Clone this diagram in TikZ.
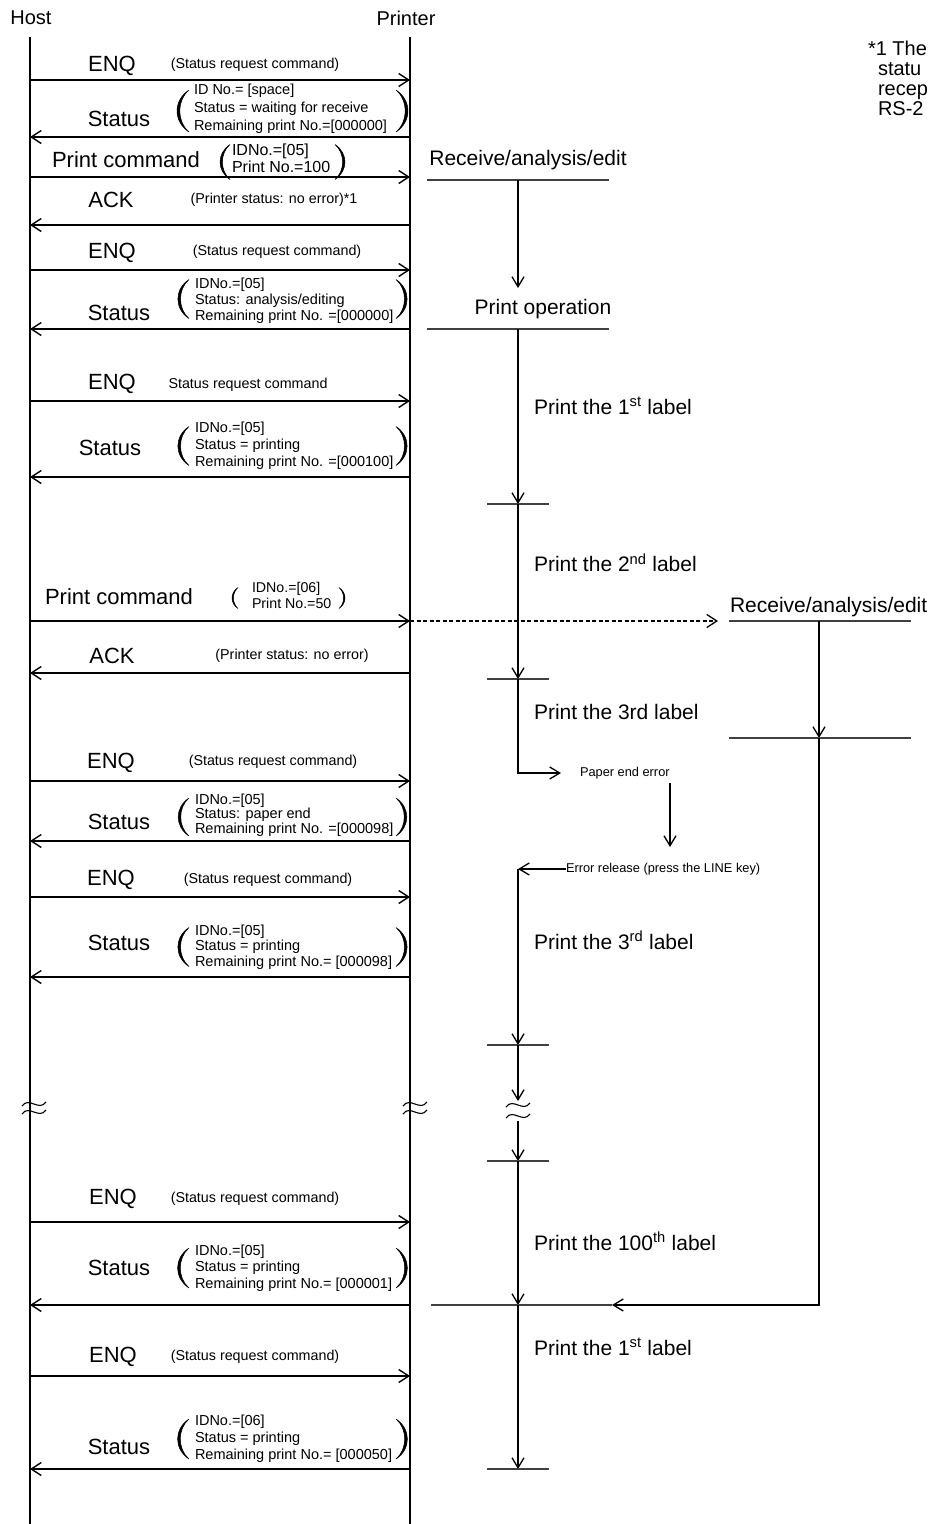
\documentclass[tikz,border=0pt]{standalone}
\usepackage{fontspec}
\setmainfont{Liberation Sans}
\usetikzlibrary{arrows.meta}
\newcommand\fs[2]{\fontsize{#1}{#2}\selectfont}
\begin{document}
\begin{tikzpicture}[x=1pt,y=-1pt,
  every node/.style={inner sep=0pt, outer sep=0pt},
  life/.style={line width=2.2pt},
  msg/.style={line width=1.4pt, -{Straight Barb[length=10pt,width=13pt]}},
  dmsg/.style={line width=1.3pt, dash pattern=on 4pt off 2.5pt, -{Straight Barb[length=10pt,width=13pt]}},
  flow/.style={line width=1.3pt, -{Straight Barb[length=10pt,width=12pt]}},
  bar/.style={line width=1.1pt, black!75},
  big/.style={font=\fs{22}{26}},
  actor/.style={font=\fs{20}{24}},
  proc/.style={font=\fs{21}{25}},
  small/.style={font=\fs{14.3}{17}},
  tiny/.style={font=\fs{12.8}{15}, anchor=west},
  blk/.style={font=\fs{14.5}{#1}, align=left, anchor=west},
  note/.style={font=\fs{20}{20}, anchor=base west},
  tildewave/.pic={\draw[line width=1.1pt] (-12,2) .. controls (-5,-8) and (5,8) .. (12,-2);},
  lpar/.pic={\filldraw[line width=0.5pt] (0,-#1/2) .. controls (-0.38*#1,-#1/4) and (-0.38*#1,#1/4) .. (0,#1/2)
      .. controls (-0.29*#1,#1/4) and (-0.29*#1,-#1/4) .. cycle;},
  rpar/.pic={\filldraw[line width=0.5pt] (0,-#1/2) .. controls (0.38*#1,-#1/4) and (0.38*#1,#1/4) .. (0,#1/2)
      .. controls (0.29*#1,#1/4) and (0.29*#1,-#1/4) .. cycle;}
]
\useasboundingbox (0,0) rectangle (933,1524);

% lifelines
\node[actor] (host) at (31,18) {Host};
\node[actor] (printer) at (406,18) {Printer};
\coordinate (H) at (30,37);
\coordinate (Hb) at (30,1524);
\coordinate (P) at (410,37);
\coordinate (Pb) at (410,1524);
\draw[life] (H) -- (Hb);
\draw[life] (P) -- (Pb);

% footnote (clipped in the reference)
\node[note] (fn1) at (868,55) {*1 The};
\node[note] (fn2) at (878,75) {statu};
\node[note] (fn3) at (878,95) {recep};
\node[note] (fn4) at (878,115) {RS-2};

% ---------- messages ----------
% 1 ENQ
\node[big] (enq1) at (112,66) {ENQ};
\node[small] (enq1n) at (255,65) {(Status request command)};
\draw[msg] (H |- 0,80) -- (P |- 0,80);
% 2 Status
\node[big] (st1) at (119,119) {Status};
\pic at (189,111) {lpar=42};
\node[blk=18] (st1t) at (194,109) {ID No.= [space]\\Status = waiting for receive\\Remaining print No.=[000000]};
\pic at (396,111) {rpar=42};
\draw[msg] (P |- 0,137) -- (H |- 0,137);
% 3 Print command
\node[big] (pc1) at (126,160) {Print command};
\pic at (230,162) {lpar=35};
\node[font=\fs{16}{17}, align=left, anchor=west] (pc1t) at (232,158.5) {IDNo.=[05]\\Print No.=100};
\pic at (335,162) {rpar=35};
\draw[msg] (H |- 0,177) -- (P |- 0,177);
% 4 ACK
\node[big] (ack1) at (111,200) {ACK};
\node[small] (ack1n) at (274,200) {(Printer status: no error)*1};
\draw[msg] (P |- 0,225) -- (H |- 0,225);
% 5 ENQ
\node[big] (enq2) at (112,253) {ENQ};
\node[small] (enq2n) at (277,252) {(Status request command)};
\draw[msg] (H |- 0,270) -- (P |- 0,270);
% 6 Status
\node[big] (st2) at (119,313) {Status};
\pic at (189,299) {lpar=39};
\node[blk=16] (st2t) at (195,301) {IDNo.=[05]\\Status: analysis/editing\\Remaining print No. =[000000]};
\pic at (396,299) {rpar=39};
\draw[msg] (P |- 0,329) -- (H |- 0,329);
% 7 ENQ
\node[big] (enq3) at (112,384) {ENQ};
\node[small] (enq3n) at (248,385) {Status request command};
\draw[msg] (H |- 0,401) -- (P |- 0,401);
% 8 Status
\node[big] (st3) at (110,448) {Status};
\pic at (189,446) {lpar=39};
\node[blk=17] (st3t) at (195,446) {IDNo.=[05]\\Status = printing\\Remaining print No. =[000100]};
\pic at (396,446) {rpar=39};
\draw[msg] (P |- 0,477) -- (H |- 0,477);
% 9 Print command
\node[big] (pc2) at (119,597) {Print command};
\pic at (238,598) {lpar=21};
\node[font=\fs{14.2}{16}, align=left, anchor=west] (pc2t) at (252,595) {IDNo.=[06]\\Print No.=50};
\pic at (339,598) {rpar=21};
\draw[msg] (H |- 0,621) -- (P |- 0,621);
% 10 ACK
\node[big] (ack2) at (112,656) {ACK};
\node[small] (ack2n) at (292,656) {(Printer status: no error)};
\draw[msg] (P |- 0,673) -- (H |- 0,673);
% 11 ENQ
\node[big] (enq4) at (111,763) {ENQ};
\node[small] (enq4n) at (273,762) {(Status request command)};
\draw[msg] (H |- 0,781) -- (P |- 0,781);
% 12 Status
\node[big] (st4) at (119,822) {Status};
\pic at (189,817) {lpar=38};
\node[blk=14.5] (st4t) at (195,815) {IDNo.=[05]\\Status: paper end\\Remaining print No. =[000098]};
\pic at (396,817) {rpar=38};
\draw[msg] (P |- 0,841) -- (H |- 0,841);
% 13 ENQ
\node[big] (enq5) at (111,880) {ENQ};
\node[small] (enq5n) at (268,880) {(Status request command)};
\draw[msg] (H |- 0,897) -- (P |- 0,897);
% 14 Status
\node[big] (st5) at (119,943) {Status};
\pic at (189,947) {lpar=39};
\node[blk=15.5] (st5t) at (195,947) {IDNo.=[05]\\Status = printing\\Remaining print No.= [000098]};
\pic at (396,947) {rpar=39};
\draw[msg] (P |- 0,977) -- (H |- 0,977);
% 15 ENQ
\node[big] (enq6) at (113,1199) {ENQ};
\node[small] (enq6n) at (255,1199) {(Status request command)};
\draw[msg] (H |- 0,1222) -- (P |- 0,1222);
% 16 Status
\node[big] (st6) at (119,1268) {Status};
\pic at (189,1268) {lpar=40};
\node[blk=16.5] (st6t) at (195,1268) {IDNo.=[05]\\Status = printing\\Remaining print No.= [000001]};
\pic at (396,1268) {rpar=40};
\draw[msg] (P |- 0,1305) -- (H |- 0,1305);
% 17 ENQ
\node[big] (enq7) at (113,1357) {ENQ};
\node[small] (enq7n) at (255,1357) {(Status request command)};
\draw[msg] (H |- 0,1376) -- (P |- 0,1376);
% 18 Status
\node[big] (st7) at (119,1447) {Status};
\pic at (189,1439) {lpar=40};
\node[blk=17] (st7t) at (195,1439) {IDNo.=[06]\\Status = printing\\Remaining print No.= [000050]};
\pic at (396,1439) {rpar=40};
\draw[msg] (P |- 0,1469) -- (H |- 0,1469);

% break marks on lifelines
\pic at (34,1104) {tildewave};
\pic at (34,1112) {tildewave};
\pic at (415,1104) {tildewave};
\pic at (415,1112) {tildewave};

% ---------- printer process, column A ----------
\node[proc] (ra1) at (528,160) {Receive/analysis/edit};
\coordinate (ra1L) at (427,180);
\coordinate (ra1R) at (609,180);
\draw[bar] (ra1L) -- (ra1R);
\coordinate (a0) at (518,180);
\coordinate (a0e) at (518,288);
\draw[flow] (a0) -- (a0e);

\node[proc] (pop) at (543,309) {Print operation};
\coordinate (popL) at (427,329);
\coordinate (popR) at (609,329);
\draw[bar] (popL) -- (popR);
\coordinate (a1) at (518,329);
\coordinate (t1) at (518,504);
\draw[flow] (a1) -- (t1);
\draw[bar] ([xshift=-31pt]t1) -- ([xshift=31pt]t1);
\node[proc, anchor=west] (l1) at (534,406) {Print the 1\textsuperscript{st} label};

\coordinate (t2) at (518,679);
\draw[flow] (t1) -- (t2);
\draw[bar] ([xshift=-31pt]t2) -- ([xshift=31pt]t2);
\node[proc, anchor=west] (l2) at (534,563) {Print the 2\textsuperscript{nd} label};

\node[proc, anchor=west] (l3) at (534,712) {Print the 3rd label};
\coordinate (pe) at (561,773);
\draw[flow] (t2) |- (pe);
\node[tiny] (pee) at (580,773) {Paper end error};
\coordinate (pd0) at (670,783);
\coordinate (pd1) at (670,847);
\draw[flow] (pd0) -- (pd1);
\node[tiny] (er) at (566,869) {Error release (press the LINE key)};
\coordinate (erp) at (518,869);
\draw[flow] (er.west) -- (erp);
\coordinate (t3) at (518,1045);
\draw[flow] (erp) -- (t3);
\draw[bar] ([xshift=-31pt]t3) -- ([xshift=31pt]t3);
\node[proc, anchor=west] (l3b) at (534,940) {Print the 3\textsuperscript{rd} label};

\coordinate (w0) at (518,1101);
\draw[flow] (t3) -- (w0);
\pic at (518,1105) {tildewave};
\pic at (518,1116) {tildewave};
\coordinate (w1) at (518,1121);
\coordinate (t4) at (518,1161);
\draw[flow] (w1) -- (t4);
\draw[bar] ([xshift=-31pt]t4) -- ([xshift=31pt]t4);

\coordinate (t5) at (518,1305);
\draw[flow] (t4) -- (t5);
\node[proc, anchor=west] (l100) at (534,1241) {Print the 100\textsuperscript{th} label};
\coordinate (t5L) at (431,1305);
\coordinate (t5M) at (612,1305);
\draw[bar] (t5L) -- (t5M);

\coordinate (t6) at (518,1469);
\draw[flow] (t5) -- (t6);
\draw[bar] ([xshift=-31pt]t6) -- ([xshift=31pt]t6);
\node[proc, anchor=west] (l1b) at (534,1347) {Print the 1\textsuperscript{st} label};

% ---------- column B ----------
\coordinate (dstart) at (410,621);
\coordinate (dend) at (718,621);
\draw[dmsg] (dstart) -- (dend);
\node[proc, anchor=west] (ra2) at (730,607) {Receive/analysis/edit};
\coordinate (ra2L) at (729,621);
\coordinate (ra2R) at (911,621);
\draw[bar] (ra2L) -- (ra2R);
\coordinate (b0) at (819,621);
\coordinate (b1) at (819,738);
\draw[flow] (b0) -- (b1);
\coordinate (b1L) at (729,738);
\coordinate (b1R) at (911,738);
\draw[bar] (b1L) -- (b1R);
\draw[flow] (b1) |- (t5M);
\end{tikzpicture}
\end{document}
